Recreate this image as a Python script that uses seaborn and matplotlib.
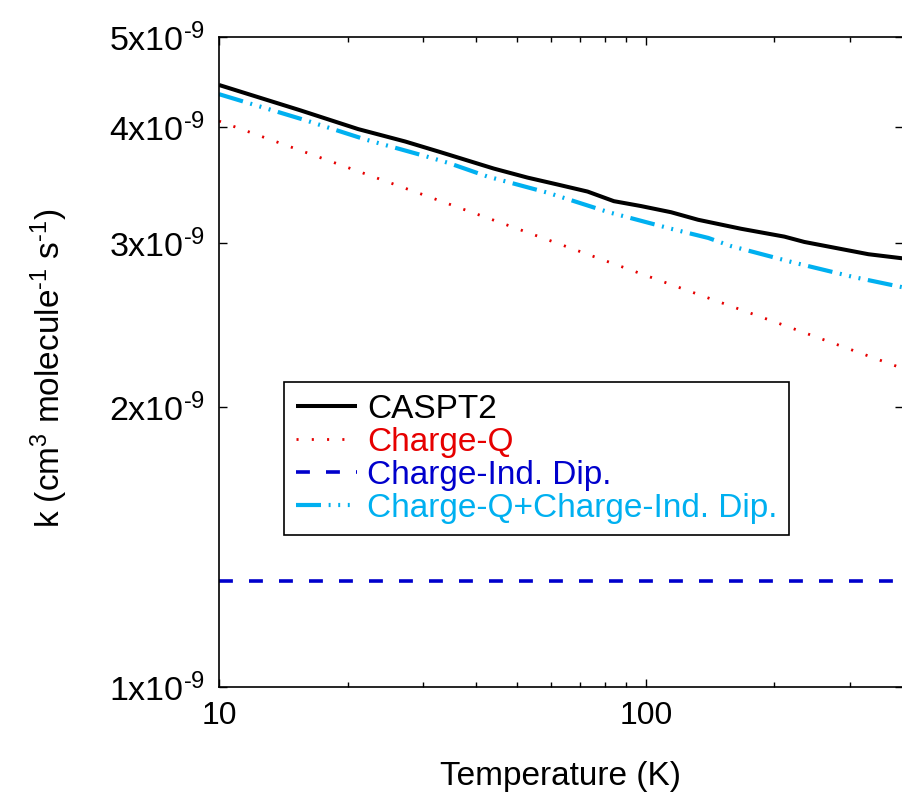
import numpy as np
import pandas as pd
import matplotlib
matplotlib.use("Agg")
import matplotlib.pyplot as plt
import matplotlib.ticker as mticker
import seaborn as sns

# ---- data (k in units of 1e-9 cm^3 molecule^-1 s^-1) ----
T_caspt2 = [10, 15.5, 21.2, 27.3, 33.0, 44.0, 52.8, 62.1, 73.0, 84.1, 97.3,
            114.5, 132.5, 167, 211, 235, 332, 400]
k_caspt2 = [4.44, 4.17, 3.98, 3.86, 3.76, 3.61, 3.53, 3.47, 3.41, 3.33, 3.29,
            3.24, 3.18, 3.11, 3.05, 3.01, 2.92, 2.89]

T_chargeq = [10, 20, 50, 100, 200, 400]
k_chargeq = [4.06, 3.62, 3.11, 2.77, 2.47, 2.20]

T_inddip = [10, 400]
k_inddip = [1.30, 1.30]

T_sum = [10, 15.9, 22.0, 30.6, 34.5, 42.5, 58.9, 81.8, 114.5, 140, 158, 222, 306, 400]
k_sum = [4.34, 4.07, 3.88, 3.72, 3.66, 3.54, 3.40, 3.24, 3.11, 3.04, 2.98, 2.86, 2.76, 2.69]

labels = ["CASPT2", "Charge-Q", "Charge-Ind. Dip.", "Charge-Q+Charge-Ind. Dip."]
yticks = [1, 2, 3, 4, 5]
xticks = [10, 100]
xminor = [20, 30, 40, 50, 60, 70, 80, 90, 200, 300, 400]

sns.set_style("ticks")
plt.rcParams["font.family"] = ["Liberation Sans", "DejaVu Sans"]
plt.rcParams["mathtext.fontset"] = "custom"
plt.rcParams["mathtext.rm"] = "Liberation Sans"
plt.rcParams["lines.scale_dashes"] = False
plt.rcParams["text.color"] = "black"
plt.rcParams["axes.labelcolor"] = "black"
plt.rcParams["xtick.color"] = "black"
plt.rcParams["ytick.color"] = "black"

fig = plt.figure(figsize=(9.03, 7.98), dpi=100)
ax = fig.add_axes([219 / 903, 111 / 798, 684 / 903, 650 / 798])

series = [
    (T_caspt2, k_caspt2, labels[0], "#000000", 2.9, None),
    (T_chargeq, k_chargeq, labels[1], "#E60000", 2.0, (0, (1.5, 9.5))),
    (T_inddip, k_inddip, labels[2], "#0000CC", 2.6, (0, (10, 11.6))),
    (T_sum, k_sum, labels[3], "#00B0F0", 3.0, (0, (18, 5.5, 1.4, 5.5, 1.4, 5.5, 1.4, 5.5))),
]

for T, k, lab, col, lw, ls in series:
    df = pd.DataFrame({"T": T, "k": np.array(k) * 1e-9})
    sns.lineplot(data=df, x="T", y="k", ax=ax, color=col, linewidth=lw,
                 label=lab, estimator=None)
    line = ax.lines[-1]
    if ls is None:
        line.set_linestyle("-")
    else:
        line.set_linestyle(ls)
    line.set_solid_capstyle("butt")
    line.set_dash_capstyle("butt")

ax.set_xscale("log")
ax.set_yscale("log")
ax.set_xlim(10, 400)
ax.set_ylim(1e-9, 5e-9)

ax.xaxis.set_major_locator(mticker.FixedLocator(xticks))
ax.xaxis.set_minor_locator(mticker.FixedLocator(xminor))
ax.xaxis.set_major_formatter(mticker.FixedFormatter([str(v) for v in xticks]))
ax.xaxis.set_minor_formatter(mticker.NullFormatter())
ax.yaxis.set_major_locator(mticker.FixedLocator([v * 1e-9 for v in yticks]))
ax.yaxis.set_minor_locator(mticker.NullLocator())
ax.yaxis.set_major_formatter(mticker.FixedFormatter(
    [r"$\mathregular{%dx10^{\text{-}9}}$" % v for v in yticks]))

ax.tick_params(which="both", direction="in", top=True, right=True,
               width=1.0, colors="black", labelsize=23)
ax.tick_params(axis="y", labelsize=24.5)
ax.tick_params(which="major", length=6, pad=10)
ax.tick_params(which="minor", length=3.6)
for sp in ax.spines.values():
    sp.set_linewidth(1.2)
    sp.set_color("black")

ax.set_xlabel("Temperature (K)", fontsize=24, labelpad=22)
ax.set_ylabel(r"k (cm$\mathregular{^3}$ molecule$\mathregular{^{\text{-}1}}$ s$\mathregular{^{\text{-}1}}$)",
              fontsize=24)
ax.yaxis.set_label_coords(-0.218, 0.49)

leg = ax.legend(loc="upper left", bbox_to_anchor=(0.095, 0.469), borderaxespad=0,
                fontsize=24, frameon=True, fancybox=False, framealpha=1,
                edgecolor="black", handlelength=1.85, handletextpad=0.3,
                borderpad=0.35, labelspacing=0.06, labelcolor="linecolor")
leg.get_frame().set_linewidth(1.2)

fig.savefig("out.png", dpi=100)
